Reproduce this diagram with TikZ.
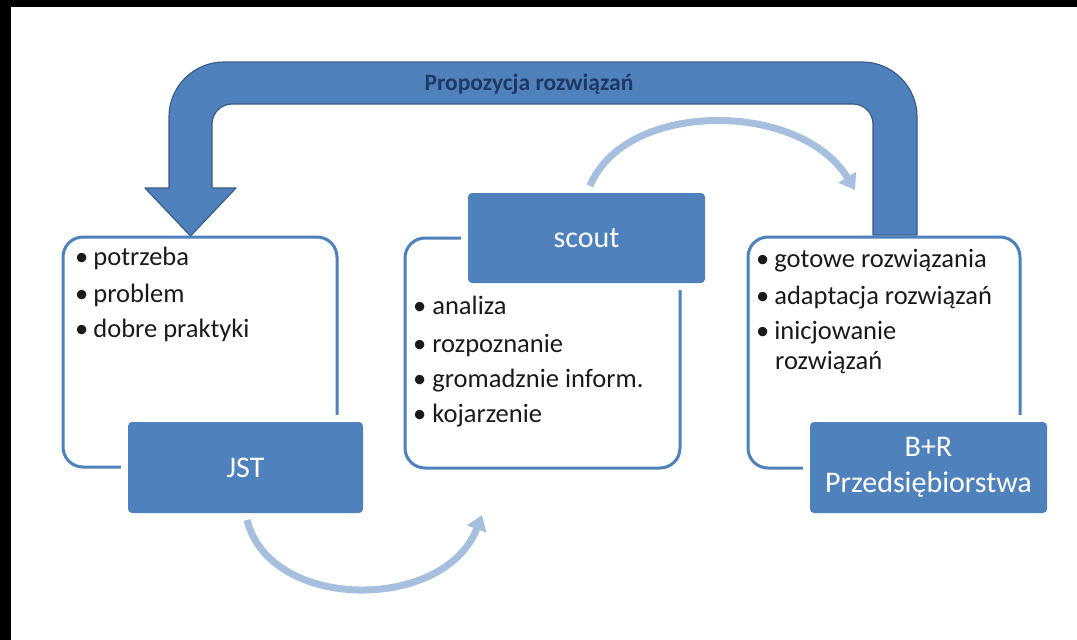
\documentclass[tikz,border=0pt]{standalone}
\usepackage{fontspec}
\setmainfont{Carlito}
\usetikzlibrary{arrows.meta}
\definecolor{boxblue}{HTML}{4F81BD}
\definecolor{arrowline}{HTML}{385D8A}
\definecolor{lightarc}{HTML}{A7BFDE}
\definecolor{navy}{HTML}{1F3864}
\definecolor{txt}{HTML}{1A1A1A}
\begin{document}
\begin{tikzpicture}[x=1pt,y=-1pt,
  frame/.style={draw=boxblue, line width=3pt, rounded corners=20pt, inner sep=0pt},
  tag/.style={fill=boxblue, rounded corners=4pt, text=white, inner sep=0pt,
    font=\fontsize{30}{36}\selectfont, align=center,
    preaction={draw=white, line width=14pt}},
  item/.style={anchor=mid west, inner sep=0pt, text=txt, font=\fontsize{26.5}{30}\selectfont},
  flow/.style={draw=lightarc, line width=7pt, -{Triangle[length=15pt,width=20pt]}},
  bigarrow/.style={fill=boxblue, draw=arrowline, line width=1.2pt, line join=round}]
\useasboundingbox (0,0) rectangle (1077,640);
\fill[white] (0,0) rectangle (1077,640);
\fill[black] (0,0) rectangle (1077,7);
\fill[black] (0,0) rectangle (11,640);

% big U arrow
\filldraw[bigarrow]
  (873,235) -- (917,235) -- (917,117)
  .. controls (917,86.6) and (892.4,62) .. (862,62) -- (224,62)
  .. controls (193.6,62) and (169,86.6) .. (169,117) -- (169,188)
  -- (145,188) -- (190.5,236) -- (236,188) -- (212,188) -- (212,124)
  .. controls (212,113) and (221,104) .. (232,104) -- (853,104)
  .. controls (864,104) and (873,113) .. (873,124) -- cycle;
\node[font=\bfseries\fontsize{23.5}{26}\selectfont, text=navy] (prop) at (529,84) {Propozycja rozwiązań};

% frames
\node[frame, minimum width=274pt, minimum height=230pt] (f1) at (200,352) {};
\node[frame, minimum width=275pt, minimum height=230pt] (f2) at (542.5,353) {};
\node[frame, minimum width=272pt, minimum height=231pt] (f3) at (884,352.5) {};

% label boxes
\node[tag, minimum width=235pt, minimum height=91pt] (jst) at (245.5,467.5) {JST};
\node[tag, minimum width=237pt, minimum height=90pt] (scout) at (586.5,238) {scout};
\node[tag, minimum width=237pt, minimum height=91pt] (br) at (928.5,467.5) {B+R\\Przedsiębiorstwa};

% lists
\node[item] (l1) at (75,263) {•\hspace{5pt}potrzeba};
\node[item] (l2) at (75,300) {•\hspace{5pt}problem};
\node[item] (l3) at (75,335) {•\hspace{5pt}dobre praktyki};

\node[item] (m1) at (413,312) {•\hspace{6pt}analiza};
\node[item] (m2) at (413,350) {•\hspace{6pt}rozpoznanie};
\node[item] (m3) at (413,385) {•\hspace{6pt}gromadznie inform.};
\node[item] (m4) at (413,420) {•\hspace{6pt}kojarzenie};

\node[item] (r1) at (756,265) {•\hspace{5pt}gotowe rozwiązania};
\node[item] (r2) at (756,302) {•\hspace{5pt}adaptacja rozwiązań};
\node[item] (r3) at (756,337) {•\hspace{5pt}inicjowanie};
\node[item] (r4) at (775,367) {rozwiązań};

% light curved arrows
\coordinate (a1s) at (247,520);
\coordinate (a1e) at (482,515);
\coordinate (a2s) at (590,186);
\coordinate (a2e) at (855,190);
\draw[flow] (a1s) .. controls (270,612) and (445,612) .. (a1e);
\draw[flow] (a2s) .. controls (625,100) and (800,100) .. (a2e);
\end{tikzpicture}
\end{document}
